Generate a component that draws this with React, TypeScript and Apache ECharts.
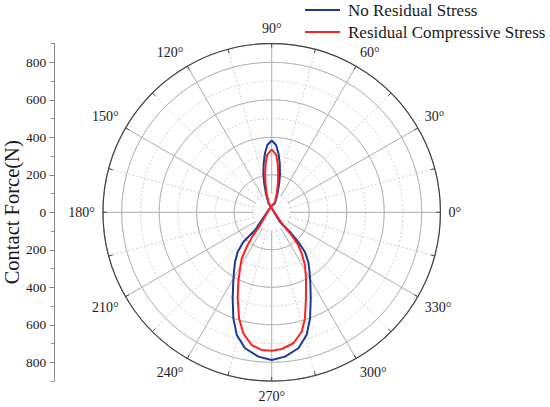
import React, { useEffect, useRef } from "react";
import * as echarts from "echarts";

// ---- data ----
const seriesNames = ["No Residual Stress", "Residual Compressive Stress"];

// No Residual Stress: traced around the figure-8 (angle in degrees, force in N)
const blueAngles = [
  90, 86.3, 83.5, 80.7, 78, 75.5, 73, 70, 100, 227, 226.3, 229.4, 233.6, 237.7, 241.1, 245.6, 250.1,
  254.1, 258.9, 264.7, 270, 275.3, 281.1, 285.9, 289.9, 294.4, 298.9, 302.3, 306.4, 310, 311.8, 312.9,
  310.6, 100, 110, 107, 104.5, 102, 99.3, 96.5, 93.7, 90,
];
const blueForce = [
  383, 360, 317, 265, 213, 160, 106, 51, 30, 131, 219, 279, 330, 377, 424, 504, 601, 680, 739, 773, 788,
  773, 739, 680, 601, 504, 426, 378, 329, 276, 213, 143, 68, 30, 51, 106, 160, 213, 265, 317, 360, 383,
];

// Residual Compressive Stress
const redAngles = [
  90, 85.5, 83, 80.5, 78, 75, 72, 100, 228, 231, 234.2, 237.1, 240.7, 244.4, 248.4, 252.9, 256.8, 261.4,
  265.8, 270, 274.2, 279.4, 284.1, 287.4, 291.7, 297.3, 302.1, 305.4, 308.9, 311, 311.7, 100, 108, 105,
  102, 99.5, 97, 94.5, 90,
];
const redForce = [
  336, 307, 263, 211, 159, 106, 55, 30, 92, 160, 228, 295, 345, 412, 493, 592, 663, 716, 736, 738, 731,
  708, 657, 593, 494, 399, 334, 282, 226, 163, 93, 30, 55, 106, 159, 211, 263, 307, 336,
];

const yMajorTicks = [-800, -600, -400, -200, 0, 200, 400, 600, 800];
const yMinorTicks = [-900, -700, -500, -300, -100, 100, 300, 500, 700, 900];

const FONT = '"Liberation Serif", "Times New Roman", serif';
const CX = 271.7;
const CY = 212.3;
const R = 168.75;
const R_IN = 18.75;
const SOLID = "#b3b3b3";
const DASH = "#d2d2d2";
const TXT = "#1a1a1a";

export default function App() {
  const ref = useRef<HTMLDivElement>(null);
  useEffect(() => {
    const chart = echarts.init(ref.current!, undefined, { renderer: "svg" });
    const angleBase = {
      type: "value" as const,
      min: 0,
      max: 360,
      startAngle: 0,
      clockwise: false,
    };
    const option: any = {
      animation: false,
      backgroundColor: "#ffffff",
      textStyle: { fontFamily: FONT },
      legend: {
        orient: "vertical",
        left: 305,
        top: 1.5,
        padding: 0,
        itemWidth: 35,
        itemHeight: 2,
        itemGap: 5,
        icon: "rect",
        data: seriesNames,
        textStyle: { fontSize: 17, lineHeight: 17, fontFamily: FONT, color: TXT, padding: [0, 0, 0, 3] },
      },
      polar: [
        { center: [CX, CY], radius: [R_IN, R] },
        { center: [CX, CY], radius: [R_IN, R] },
        { center: [CX, CY], radius: [0, R] },
        { center: [CX, CY], radius: [0, R] },
      ],
      angleAxis: [
        {
          ...angleBase,
          polarIndex: 0,
          interval: 30,
          z: 2,
          axisLine: { show: false },
          axisTick: { show: false },
          axisLabel: {
            formatter: (v: number) => `${v}°`,
            margin: 8,
            fontSize: 14,
            fontFamily: FONT,
            color: TXT,
          },
          splitLine: { show: true, lineStyle: { color: SOLID, width: 1 } },
        },
        {
          ...angleBase,
          polarIndex: 1,
          interval: 15,
          z: 1,
          axisLine: { show: false },
          axisTick: { show: false },
          axisLabel: { show: false },
          splitLine: { show: true, lineStyle: { color: DASH, width: 1, type: [2, 2] } },
        },
        {
          ...angleBase,
          polarIndex: 2,
          interval: 15,
          z: 3,
          axisLine: { show: true, lineStyle: { color: "#444", width: 1.2 } },
          axisTick: { show: true, inside: true, length: 4, lineStyle: { color: "#444" } },
          axisLabel: { show: false },
          splitLine: { show: false },
        },
        {
          ...angleBase,
          polarIndex: 3,
          interval: 30,
          z: 1,
          axisLine: { show: false },
          axisTick: { show: false },
          axisLabel: { show: false },
          splitLine: { show: false },
        },
      ],
      radiusAxis: [
        { polarIndex: 0, type: "value", min: 100, max: 900, show: false },
        { polarIndex: 1, type: "value", min: 100, max: 900, show: false },
        {
          polarIndex: 2,
          type: "value",
          min: 0,
          max: 900,
          interval: 200,
          z: 2,
          axisLine: { show: false },
          axisTick: { show: false },
          axisLabel: { show: false },
          splitLine: { show: true, lineStyle: { color: SOLID, width: 1 } },
        },
        {
          polarIndex: 3,
          type: "value",
          min: 0,
          max: 900,
          interval: 100,
          z: 1,
          axisLine: { show: false },
          axisTick: { show: false },
          axisLabel: { show: false },
          splitLine: { show: true, lineStyle: { color: DASH, width: 1, type: [2, 2] } },
        },
      ],
      grid: { left: 53.3, top: CY - R, width: 10, height: 2 * R },
      xAxis: { type: "value", show: false },
      yAxis: [
        {
          type: "value",
          min: -900,
          max: 900,
          position: "left",
          axisLine: { show: true, lineStyle: { color: "#8a8a8a", width: 1 } },
          axisTick: { show: true, length: 5, customValues: yMajorTicks, lineStyle: { color: "#8a8a8a" } },
          axisLabel: {
            customValues: yMajorTicks,
            formatter: (v: number) => String(Math.abs(v)),
            fontSize: 13.5,
            fontFamily: FONT,
            color: TXT,
            margin: 8,
          },
          splitLine: { show: false },
          name: "Contact Force(N)",
          nameLocation: "middle",
          nameGap: 30,
          nameTextStyle: { fontSize: 20.5, fontFamily: FONT, color: TXT },
        },
        {
          type: "value",
          min: -900,
          max: 900,
          position: "left",
          axisLine: { show: false },
          axisTick: { show: true, length: 3, customValues: yMinorTicks, lineStyle: { color: "#8a8a8a" } },
          axisLabel: { show: false },
          splitLine: { show: false },
        },
      ],
      series: [
        {
          type: "line",
          name: seriesNames[0],
          coordinateSystem: "polar",
          polarIndex: 2,
          data: blueAngles.map((a, i) => [blueForce[i], a]),
          showSymbol: false,
          symbol: "none",
          lineStyle: { color: "#1c3a8f", width: 2 },
          itemStyle: { color: "#1c3a8f" },
          z: 5,
        },
        {
          type: "line",
          name: seriesNames[1],
          coordinateSystem: "polar",
          polarIndex: 2,
          data: redAngles.map((a, i) => [redForce[i], a]),
          showSymbol: false,
          symbol: "none",
          lineStyle: { color: "#ff2020", width: 2 },
          itemStyle: { color: "#ff2020" },
          z: 6,
        },
      ],
    };
    chart.setOption(option);
    return () => chart.dispose();
  }, []);
  return (
    <div
      ref={ref}
      style={{ position: "fixed", left: 0, top: 0, width: 550, height: 407, background: "#fff" }}
    />
  );
}
